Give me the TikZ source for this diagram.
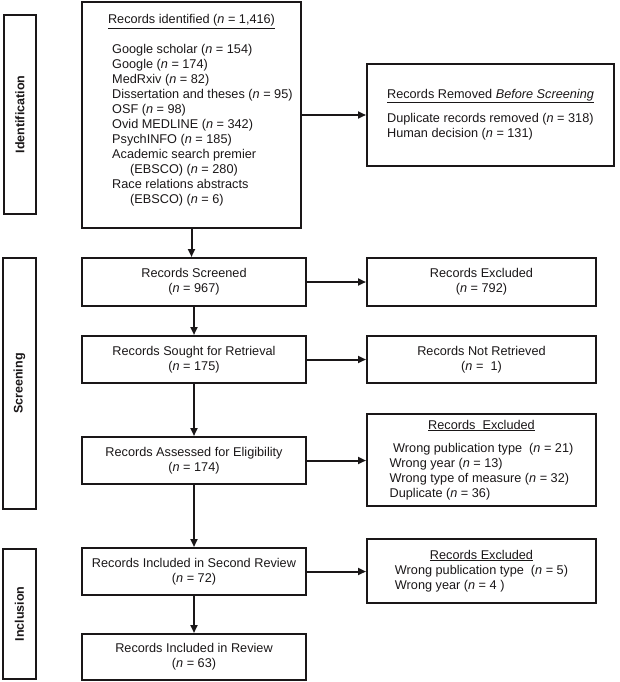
\documentclass[tikz,border=0pt]{standalone}
\usepackage{fontspec}
\setmainfont{Liberation Sans}
\usetikzlibrary{arrows.meta}
\definecolor{ink}{HTML}{1A1718}
\newcommand{\nvar}{\textit{n}}
\begin{document}
\begin{tikzpicture}[x=1pt,y=-1pt,
  every node/.style={font=\fontsize{12.7}{15}\selectfont, text=ink},
  box/.style={draw=ink, line width=2pt, rectangle, inner sep=0pt, align=center},
  side/.style={box, rotate=90, font=\fontsize{12.5}{15}\selectfont\bfseries},
  arr/.style={draw=ink, line width=2pt, -{Triangle[length=8pt,width=7pt]}}
]
\useasboundingbox (0,0) rectangle (620,682);

% phase labels
\node[side, minimum width=199pt, minimum height=32pt] (idlab) at (20,114.5) {Identification};
\node[side, minimum width=251pt, minimum height=33pt] (scrlab) at (19.5,383.5) {Screening};
\node[side, minimum width=130pt, minimum height=33pt] (inclab) at (19.5,614) {Inclusion};

% identification
\node[box, minimum width=219pt, minimum height=226pt] (big) at (191.5,115) {};
\node[anchor=north, inner sep=0pt] (bigtitle) at (191.5,14.5) {\underline{Records identified (\nvar{} = 1,416)}};
\node[anchor=north west, inner sep=0pt, align=left] (biglist) at (112,44) {%
Google scholar (\nvar{} = 154)\\
Google (\nvar{} = 174)\\
MedRxiv (\nvar{} = 82)\\
Dissertation and theses (\nvar{} = 95)\\
OSF (\nvar{} = 98)\\
Ovid MEDLINE (\nvar{} = 342)\\
PsychINFO (\nvar{} = 185)\\
Academic search premier\\
\hspace*{18pt}(EBSCO) (\nvar{} = 280)\\
Race relations abstracts\\
\hspace*{18pt}(EBSCO) (\nvar{} = 6)};

\node[box, minimum width=247pt, minimum height=102pt] (removed) at (490.5,115) {%
\begin{tabular}{@{}l@{}}
\multicolumn{1}{@{}c@{}}{\underline{Records Removed \textit{Before Screening}}}\\[9pt]
Duplicate records removed (\nvar{} = 318)\\
Human decision (\nvar{} = 131)
\end{tabular}};

% screening
\node[box, minimum width=224pt, minimum height=48pt] (screened) at (194,282) {Records Screened\\(\nvar{} = 967)};
\node[box, minimum width=229pt, minimum height=48pt] (excl1) at (481.5,282) {Records Excluded\\(\nvar{} = 792)};
\node[box, minimum width=224pt, minimum height=47pt] (sought) at (194,359.5) {Records Sought for Retrieval\\(\nvar{} = 175)};
\node[box, minimum width=229pt, minimum height=47pt] (notret) at (481.5,359.5) {Records Not Retrieved\\(\nvar{} =\ \ 1)};
\node[box, minimum width=224pt, minimum height=47pt] (assessed) at (194,460.5) {Records Assessed for Eligibility\\(\nvar{} = 174)};
\node[box, minimum width=229pt, minimum height=92pt] (excl2) at (481.5,460) {%
\begin{tabular}{@{}l@{}}
\multicolumn{1}{@{}c@{}}{\underline{Records\ \ Excluded}}\\[8pt]
\ Wrong publication type\ \ (\nvar{} = 21)\\
Wrong year (\nvar{} = 13)\\
Wrong type of measure (\nvar{} = 32)\\
Duplicate (\nvar{} = 36)
\end{tabular}};

% inclusion
\node[box, minimum width=224pt, minimum height=47pt] (second) at (194,571.5) {Records Included in Second Review\\(\nvar{} = 72)};
\node[box, minimum width=229pt, minimum height=64pt] (excl3) at (481.5,571) {%
\begin{tabular}{@{}l@{}}
\multicolumn{1}{@{}c@{}}{\underline{Records Excluded}}\\
Wrong publication type\ \ (\nvar{} = 5)\\
Wrong year (\nvar{} = 4\ )
\end{tabular}};
\node[box, minimum width=224pt, minimum height=46pt] (review) at (194,657) {Records Included in Review\\(\nvar{} = 63)};

% connectors
\draw[arr] (big.south) -- (big.south |- screened.north);
\draw[arr] (big.east) -- (removed.west);
\draw[arr] (screened) -- (sought);
\draw[arr] (sought) -- (assessed);
\draw[arr] (assessed) -- (second);
\draw[arr] (second) -- (review);
\draw[arr] (screened) -- (excl1);
\draw[arr] (sought) -- (notret);
\draw[arr] (assessed.east) -- (assessed.east -| excl2.west);
\draw[arr] (second.east) -- (second.east -| excl3.west);
\end{tikzpicture}
\end{document}
